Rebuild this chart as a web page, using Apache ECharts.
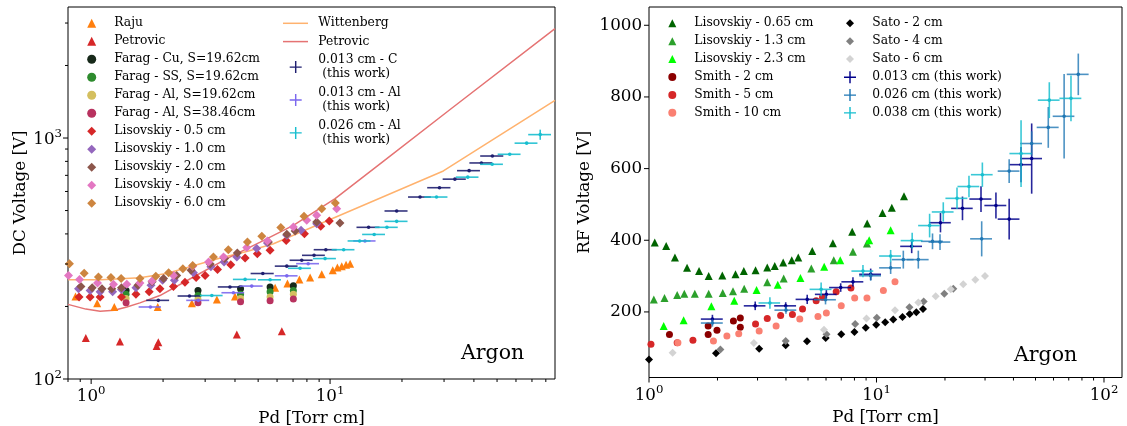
<!DOCTYPE html>
<html><head><meta charset="utf-8">
<script src="https://cdn.jsdelivr.net/npm/echarts@6/dist/echarts.min.js"></script>
<style>html,body{margin:0;padding:0;background:#fff}#c{width:1127px;height:426px}</style>
</head><body><div id="c"></div>
<script>
// ---------------- LEFT PANEL DATA (DC, Argon) ----------------
const rajuX = [0.86,1.06,1.25,1.90,2.64,3.36,4.00,5.89,6.63,7.44,8.25,9.23,10.26,10.73,11.19,11.67,12.13];
const rajuY = [220,206,199,199,206,214,220,239,249,259,264,272,283,290,294,298,301];
const petrovicPtsX = [0.95,1.32,1.88,1.91,4.07,6.28];
const petrovicPtsY = [148,143,137,142,153,158];
const faragX = [1.40,2.80,4.22,5.61,7.02];
const faragCuY = [233,233,237,241,244];
const faragSSY = [225,222,225,230,233];
const faragAl19Y = [216,214,216,219,225];
const faragAl38Y = [207,207,209,211,215];
const lis05X = [0.89,0.99,1.09,1.34,1.54,1.75,1.94,2.21,2.47,2.75,3.00,3.38,3.84,4.41,4.96,5.61,6.55,7.81,9.14,9.93];
const lis05Y = [219,219,219,219,225,230,237,242,252,264,269,285,298,318,331,342,376,401,430,452];
const lis10X = [0.885,0.99,1.09,1.23,1.34,1.54,1.78,1.99,2.23,2.68,3.17,3.60,4.07,4.93,5.47,6.59,7.56,8.79];
const lis10Y = [237,233,230,230,235,239,245,257,257,276,292,306,321,348,367,395,414,441];
const lis20X = [0.906,1.01,1.11,1.22,1.34,1.57,1.80,2.01,2.28,2.62,3.15,3.62,4.09,5.52,6.59,7.14,8.79,11.0];
const lis20Y = [242,239,237,237,239,245,253,261,269,283,300,316,333,370,399,411,448,444];
const lis40X = [0.804,0.894,1.063,1.24,1.41,1.60,1.80,2.21,2.66,3.10,3.58,4.48,5.47,7.02,7.99,8.79,10.66];
const lis40Y = [269,259,250,247,247,250,255,269,294,306,321,351,374,427,456,478,509];
const lis60X = [0.811,0.935,1.073,1.21,1.335,1.60,1.865,2.11,2.42,2.66,3.25,3.75,4.51,5.18,6.22,7.78,9.23,10.52];
const lis60Y = [301,275,265,264,261,261,267,276,287,296,321,344,370,391,425,473,509,537];
const wittX = [0.8,1.1,1.6,2.07,2.68,3.47,4.48,5.8,29.8,87.4];
const wittY = [258,258,263,274,295,318,338,364,730,1433];
const petLineX = [0.8,0.95,1.09,1.25,1.41,1.6,1.94,2.68,3.70,5.10,7.02,10.5,16.7,31.8,87.4];
const petLineY = [204,195,191,193,199,207,222,265,316,370,434,560,800,1313,2844];
const c013X = [1.91,2.58,3.81,5.23,6.59,7.61,8.57,9.60,14.5,19.0,23.8,28.7,33.3,38.2,43.0,47.8];
const c013Y = [212,221,241,274,294,311,326,344,426,498,569,622,675,732,788,842];
const c013XErr = [0.21,0.28,0.42,0.58,0.72,0.84,0.94,1.06,1.6,2.1,2.6,3.2,3.7,4.2,4.7,5.3];
const c013YErr = [0,0,0,0,0,0,0,0,0,0,0,0,0,0,0,0];
const al013X = [1.77,2.81,3.94,4.70,6.59,8.10,14.0];
const al013Y = [199,212,228,243,268,301,374];
const al013XErr = [0.19,0.31,0.43,0.52,0.72,0.89,1.5];
const al013YErr = [0,0,0,0,0,0,0];
const al026X = [3.20,4.41,5.61,7.49,9.53,11.4,13.3,15.3,17.3,19.0,27.9,37.7,47.7,56.5,66.5,75.8];
const al026Y = [222,259,258,288,316,344,374,398,426,451,569,688,778,856,952,1033];
const al026XErr = [0.35,0.49,0.62,0.82,1.05,1.25,1.46,1.68,1.9,2.1,3.1,4.1,5.2,6.2,7.3,8.3];
const al026YErr = [0,0,0,0,0,0,0,0,0,0,0,0,0,0,0,50];
const leftXMajor = [1,10];
const leftXMinor = [0.8,0.9,2,3,4,5,6,7,8,9,20,30,40,50,60,70,80];
const leftYMajor = [100,1000];
const leftYMinor = [200,300,400,500,600,700,800,900,2000,3000];

// ---------------- RIGHT PANEL DATA (RF, Argon) ----------------
const lis065X = [1.06,1.19,1.30,1.47,1.66,1.83,2.10,2.40,2.61,2.94,3.31,3.57,3.89,4.24,4.53,5.22,6.43,7.82,9.10,10.63,11.68,13.21];
const lis065Y = [394,384,352,323,314,300,302,305,314,316,324,328,338,344,352,370,392,424,447,476,491,523];
const lis13X = [1.05,1.17,1.33,1.43,1.59,1.83,2.11,2.34,2.62,3.31,3.91,5.17,6.49,7.88,9.08];
const lis13Y = [235,239,247,251,251,251,253,258,265,283,293,321,344,368,391];
const lis23X = [1.16,1.42,1.88,2.37,2.97,3.68,4.63,5.89,6.93,9.29,11.54];
const lis23Y = [161,177,216,231,261,276,295,326,344,400,428];
const smith2X = [1.23,1.82,1.82,1.99,2.35,2.52,2.52];
const smith2Y = [137,161,137,149,175,183,157];
const smith5X = [1.02,1.33,1.56,2.94,3.31,3.79,4.27,4.73,5.43,5.79,6.65,7.72];
const smith5Y = [110,114,121,166,182,190,193,208,231,241,256,267];
const smith10X = [1.34,1.92,2.20,2.48,3.05,3.62,4.60,5.53,6.02,7.0,8.02,9.08,10.72,12.06];
const smith10Y = [114,119,133,139,147,161,180,187,197,217,239,239,260,284];
const sato2X = [1.0,1.97,3.05,3.99,4.95,5.98,7.0,8.0,8.97,9.97,10.92,11.85,13.01,13.99,14.96,16.01];
const sato2Y = [67,85,97,107,118,127,138,144,156,164,171,179,186,194,199,208];
const sato4X = [2.06,3.99,6.03,8.06,10.03,13.96,16.12,19.86,21.76];
const sato4Y = [95,119,138,166,184,213,229,251,265];
const sato6X = [1.27,2.89,5.88,9.04,12.06,15.27,18.2,21.2,24.07,27.19,29.99];
const sato6Y = [86,113,150,182,205,226,244,263,277,290,300];
const r013X = [1.90,2.93,3.99,4.96,6.02,6.96,7.88,9.43,14.28,19.11,23.88,28.8,33.5,38.3,43.2,48.1];
const r013Y = [180,217,217,235,249,268,284,305,383,449,489,515,497,459,611,628];
const r013XErr = [0.21,0.32,0.44,0.55,0.66,0.77,0.87,1.04,1.57,2.1,2.6,3.2,3.7,4.2,4.8,5.3];
const r013YErr = [12,12,10,13,12,12,13,16,19,27,33,36,36,57,49,98];
const r026X = [1.90,4.0,5.97,9.43,11.54,13.12,15.27,17.63,19.02,29.0,38.3,48.1,56.9,66.8,77.1];
const r026Y = [169,205,234,301,323,346,346,397,395,404,593,670,715,746,863];
const r026XErr = [0.21,0.44,0.66,1.04,1.27,1.44,1.68,1.94,2.09,3.2,4.2,5.3,6.3,7.3,8.5];
const r026YErr = [10,10,13,14,17,25,25,22,22,49,33,34,57,118,58];
const r038X = [3.40,5.71,8.72,11.54,14.35,17.12,19.66,22.59,25.5,29.2,43.2,57.5,71.6];
const r038Y = [225,263,314,356,399,441,479,517,550,583,642,791,796];
const r038XErr = [0.37,0.63,0.96,1.27,1.58,1.88,2.16,2.5,2.8,3.2,4.8,6.3,7.9];
const r038YErr = [16,19,17,17,22,33,27,30,30,34,93,50,64];
const rightXMajor = [1,10,100];
const rightXMinor = [2,3,4,5,6,7,8,9,20,30,40,50,60,70,80,90];
const rightYMajor = [200,400,600,800,1000];

// ---------------- BUILD ----------------
const FONT = "'DejaVu Serif', 'Liberation Serif', serif";
const pts = (X, Y) => X.map((x, i) => [x, Y[i]]);

function scatter(name, gi, X, Y, symbol, size, color) {
  return { name, type: 'scatter', xAxisIndex: gi, yAxisIndex: gi, data: pts(X, Y),
    symbol, symbolSize: size, itemStyle: { color, opacity: 1 }, z: 3 };
}
function line(name, gi, X, Y, color) {
  return { name, type: 'line', xAxisIndex: gi, yAxisIndex: gi, data: pts(X, Y),
    symbol: 'none', showSymbol: false, lineStyle: { color, width: 1.5 }, itemStyle: { color }, z: 2 };
}
function errSeries(name, gi, X, Y, XE, YE, color, lw, dotR, op) {
  return { name, type: 'custom', xAxisIndex: gi, yAxisIndex: gi, z: 4, clip: false,
    itemStyle: { color },
    data: X.map((x, i) => [x, Y[i], x - XE[i], x + XE[i], Y[i] - YE[i], Y[i] + YE[i]]),
    renderItem: (params, api) => {
      const x = api.value(0), y = api.value(1);
      const c = api.coord([x, y]);
      const a = api.coord([api.value(2), y]);
      const b = api.coord([api.value(3), y]);
      const ch = [{ type: 'line', shape: { x1: a[0], y1: c[1], x2: b[0], y2: c[1] },
        style: { stroke: color, lineWidth: lw, opacity: op } }];
      if (api.value(5) > api.value(4)) {
        const d = api.coord([x, api.value(4)]), e = api.coord([x, api.value(5)]);
        ch.push({ type: 'line', shape: { x1: c[0], y1: d[1], x2: c[0], y2: e[1] },
          style: { stroke: color, lineWidth: lw, opacity: op } });
      }
      ch.push({ type: 'circle', shape: { cx: c[0], cy: c[1], r: dotR }, style: { fill: color } });
      return { type: 'group', children: ch };
    } };
}
function ticks(gi, axis, vals, len, ref) {
  return { type: 'custom', xAxisIndex: gi, yAxisIndex: gi, silent: true, clip: false, z: 10,
    data: vals.map(v => axis === 'x' ? [v, ref] : [ref, v]),
    renderItem: (params, api) => {
      const cs = params.coordSys;
      const p = api.coord([api.value(0), api.value(1)]);
      if (axis === 'x') {
        const y0 = cs.y + cs.height;
        return { type: 'line', shape: { x1: p[0], y1: y0, x2: p[0], y2: y0 + len }, style: { stroke: '#000', lineWidth: 1 } };
      }
      const x0 = cs.x;
      return { type: 'line', shape: { x1: x0, y1: p[1], x2: x0 - len, y2: p[1] }, style: { stroke: '#000', lineWidth: 1 } };
    } };
}
function powLabel(v) {
  const l = Math.log10(v), e = Math.round(l);
  if (Math.abs(l - e) > 1e-4) return '';
  return '{b|10}{s|' + e + '}';
}
const powRich = {
  b: { fontFamily: FONT, fontSize: 16.7, color: '#000', lineHeight: 24 },
  s: { fontFamily: FONT, fontSize: 11.7, color: '#000', lineHeight: 12, verticalAlign: 'top' }
};
const nameStyle = { fontFamily: FONT, fontSize: 16.7, color: '#000' };
const legText = { fontFamily: FONT, fontSize: 12.3, color: '#000', lineHeight: 14 };
const crossIcon = 'path://M0,4.4H10V5.6H0Z M4.4,0H5.6V10H4.4Z';
const lineIcon = 'path://M0,0H25V1.5H0Z';

const C = {
  raju: '#ff7f0e', petPts: '#d62728', cu: '#17291a', ss: '#2e8b2e', al19: '#d4bf5f', al38: '#b8325f',
  l05: '#d62728', l10: '#9467bd', l20: '#8c564b', l40: '#e377c2', l60: '#cd853f',
  witt: '#ffb26e', petLine: '#e57373', c013: '#1f1f70', al013: '#7b68ee', al026: '#17becf',
  l065: '#006400', l13: '#2ca02c', l23: '#00ff00', s2: '#8b0000', s5: '#d62728', s10: '#fa8072',
  sa2: '#000000', sa4: '#808080', sa6: '#d3d3d3', r013: '#00008b', r026: '#1f77b4', r038: '#17becf'
};

const series = [
  line('Wittenberg', 0, wittX, wittY, C.witt),
  line('Petrovic ', 0, petLineX, petLineY, C.petLine),
  scatter('Raju', 0, rajuX, rajuY, 'triangle', 8, C.raju),
  scatter('Petrovic', 0, petrovicPtsX, petrovicPtsY, 'triangle', 8, C.petPts),
  scatter('Farag - Cu, S=19.62cm', 0, faragX, faragCuY, 'circle', 7, C.cu),
  scatter('Farag - SS, S=19.62cm', 0, faragX, faragSSY, 'circle', 7, C.ss),
  scatter('Farag - Al, S=19.62cm', 0, faragX, faragAl19Y, 'circle', 7, C.al19),
  scatter('Farag - Al, S=38.46cm', 0, faragX, faragAl38Y, 'circle', 7, C.al38),
  scatter('Lisovskiy - 0.5 cm', 0, lis05X, lis05Y, 'diamond', 9, C.l05),
  scatter('Lisovskiy - 1.0 cm', 0, lis10X, lis10Y, 'diamond', 9, C.l10),
  scatter('Lisovskiy - 2.0 cm', 0, lis20X, lis20Y, 'diamond', 9, C.l20),
  scatter('Lisovskiy - 4.0 cm', 0, lis40X, lis40Y, 'diamond', 9, C.l40),
  scatter('Lisovskiy - 6.0 cm', 0, lis60X, lis60Y, 'diamond', 9, C.l60),
  errSeries('0.013 cm - C\n (this work)', 0, c013X, c013Y, c013XErr, c013YErr, C.c013, 1.6, 1.8, 0.9),
  errSeries('0.013 cm - Al\n (this work)', 0, al013X, al013Y, al013XErr, al013YErr, C.al013, 1.6, 1.8, 0.9),
  errSeries('0.026 cm - Al\n (this work)', 0, al026X, al026Y, al026XErr, al026YErr, C.al026, 1.6, 1.8, 0.9),
  ticks(0, 'x', leftXMajor, 5, 100), ticks(0, 'x', leftXMinor, 3, 100),
  ticks(0, 'y', leftYMajor, 5, 1), ticks(0, 'y', leftYMinor, 3, 1),

  scatter('Lisovskiy - 0.65 cm', 1, lis065X, lis065Y, 'triangle', 8, C.l065),
  scatter('Lisovskiy - 1.3 cm', 1, lis13X, lis13Y, 'triangle', 8, C.l13),
  scatter('Lisovskiy - 2.3 cm', 1, lis23X, lis23Y, 'triangle', 8, C.l23),
  scatter('Smith - 2 cm', 1, smith2X, smith2Y, 'circle', 7, C.s2),
  scatter('Smith - 5 cm', 1, smith5X, smith5Y, 'circle', 7, C.s5),
  scatter('Smith - 10 cm', 1, smith10X, smith10Y, 'circle', 7, C.s10),
  scatter('Sato - 2 cm', 1, sato2X, sato2Y, 'diamond', 8, C.sa2),
  scatter('Sato - 4 cm', 1, sato4X, sato4Y, 'diamond', 8, C.sa4),
  scatter('Sato - 6 cm', 1, sato6X, sato6Y, 'diamond', 8, C.sa6),
  errSeries('0.013 cm (this work)', 1, r013X, r013Y, r013XErr, r013YErr, C.r013, 1.6, 1.8, 0.85),
  errSeries('0.026 cm (this work)', 1, r026X, r026Y, r026XErr, r026YErr, C.r026, 1.6, 1.8, 0.8),
  errSeries('0.038 cm (this work)', 1, r038X, r038Y, r038XErr, r038YErr, C.r038, 1.6, 1.8, 0.85),
  ticks(1, 'x', rightXMajor, 5, 200), ticks(1, 'x', rightXMinor, 3, 200),
  ticks(1, 'y', rightYMajor, 5, 1)
];

// legend items: [name, icon]
function legend(left, top, items, iw, ih, gap, padLeft) {
  return { left, top, padding: 0, orient: 'vertical', itemWidth: iw, itemHeight: ih, itemGap: gap,
    selectedMode: false, symbolKeepAspect: true,
    textStyle: Object.assign({}, legText, { padding: [0, 0, 0, padLeft] }),
    data: items.map(it => ({ name: it[0], icon: it[1] })) };
}

const option = {
  animation: false,
  backgroundColor: '#ffffff',
  grid: [
    { left: 68, top: 7, width: 487, height: 372, show: true, borderColor: '#000', borderWidth: 1,
      backgroundColor: 'transparent', containLabel: false, outerBoundsMode: 'none' },
    { left: 649, top: 7, width: 473, height: 370.5, show: true, borderColor: '#000', borderWidth: 1,
      backgroundColor: 'transparent', containLabel: false, outerBoundsMode: 'none' }
  ],
  xAxis: [
    { type: 'log', logBase: 10, gridIndex: 0, min: 0.8, max: 87.4,
      name: 'Pd [Torr cm]', nameLocation: 'middle', nameGap: 29, nameTextStyle: nameStyle,
      axisLine: { show: false }, axisTick: { show: false }, splitLine: { show: false },
      axisLabel: { formatter: powLabel, rich: powRich, margin: 6 } },
    { type: 'log', logBase: 10, gridIndex: 1, min: 1, max: 120,
      name: 'Pd [Torr cm]', nameLocation: 'middle', nameGap: 29, nameTextStyle: nameStyle,
      axisLine: { show: false }, axisTick: { show: false }, splitLine: { show: false },
      axisLabel: { formatter: powLabel, rich: powRich, margin: 6 } }
  ],
  yAxis: [
    { type: 'log', logBase: 10, gridIndex: 0, min: 100, max: 3497,
      name: 'DC Voltage [V]', nameLocation: 'middle', nameGap: 33, nameTextStyle: nameStyle,
      axisLine: { show: false }, axisTick: { show: false }, splitLine: { show: false },
      axisLabel: { formatter: powLabel, rich: powRich, margin: 6, padding: [3, 0, 0, 0] } },
    { type: 'value', gridIndex: 1, min: 17, max: 1051,
      name: 'RF Voltage [V]', nameLocation: 'middle', nameGap: 56, nameTextStyle: nameStyle,
      axisLine: { show: false }, axisTick: { show: false }, splitLine: { show: false },
      axisLabel: { formatter: v => (rightYMajor.indexOf(v) >= 0 ? String(v) : ''),
        fontFamily: FONT, fontSize: 16.7, color: '#000', margin: 7 } }
  ],
  legend: [
    legend(87.2, 16.3, [['Raju','triangle'],['Petrovic','triangle'],['Farag - Cu, S=19.62cm','circle'],['Farag - SS, S=19.62cm','circle'],['Farag - Al, S=19.62cm','circle'],['Farag - Al, S=38.46cm','circle'],['Lisovskiy - 0.5 cm','diamond'],['Lisovskiy - 1.0 cm','diamond'],['Lisovskiy - 2.0 cm','diamond'],['Lisovskiy - 4.0 cm','diamond'],['Lisovskiy - 6.0 cm','diamond']], 9, 9, 4, 13.1),
    Object.assign(legend(283, 16.3, [['Wittenberg', lineIcon],['Petrovic ', lineIcon]], 25, 1.5, 4.3, 5.3),
      { formatter: n => n.trim() }),
    legend(289.7, 53.1, [['0.013 cm - C\n (this work)', crossIcon],['0.013 cm - Al\n (this work)', crossIcon],['0.026 cm - Al\n (this work)', crossIcon]], 12, 12, 4.9, 11.6),
    legend(668.3, 16.3, [['Lisovskiy - 0.65 cm','triangle'],['Lisovskiy - 1.3 cm','triangle'],['Lisovskiy - 2.3 cm','triangle'],['Smith - 2 cm','circle'],['Smith - 5 cm','circle'],['Smith - 10 cm','circle']], 8, 8, 3.9, 13),
    legend(846, 16.3, [['Sato - 2 cm','diamond'],['Sato - 4 cm','diamond'],['Sato - 6 cm','diamond']], 8, 8, 3.9, 13.3),
    legend(844, 70.3, [['0.013 cm (this work)', crossIcon],['0.026 cm (this work)', crossIcon],['0.038 cm (this work)', crossIcon]], 12, 12, 3.8, 11.3)
  ],
  graphic: [
    { type: 'text', left: 461, top: 343, style: { text: 'Argon', font: "20.5px 'DejaVu Serif', serif", fill: '#000' } },
    { type: 'text', left: 1014, top: 345, style: { text: 'Argon', font: "20.5px 'DejaVu Serif', serif", fill: '#000' } }
  ],
  series
};
const chart = echarts.init(document.getElementById('c'), null, { renderer: 'canvas' });
chart.setOption(option);
</script></body></html>
